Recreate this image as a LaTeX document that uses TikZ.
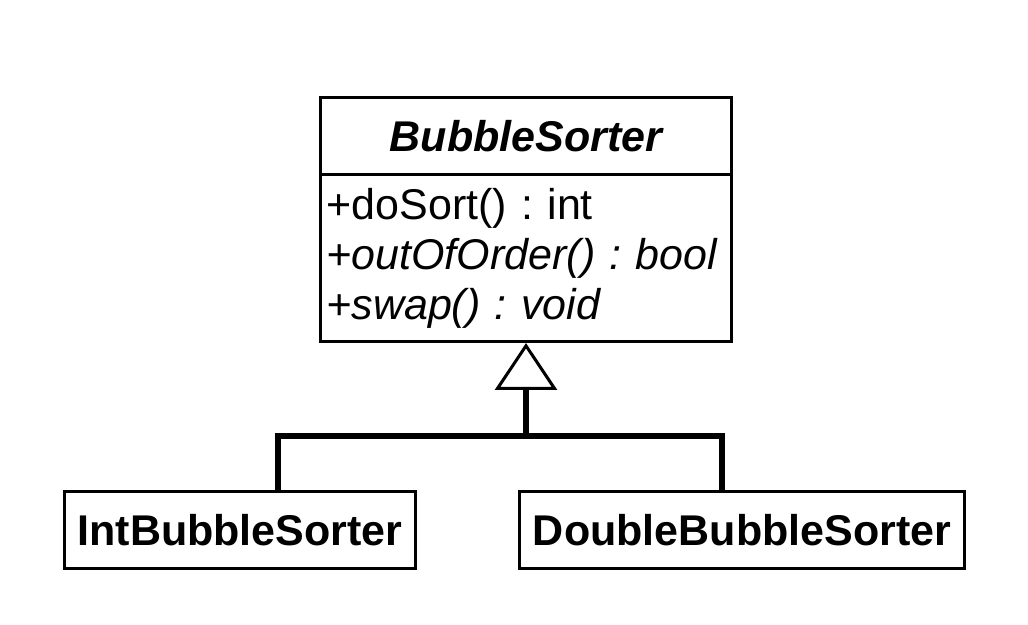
\documentclass[tikz,border=0pt]{standalone}
\usepackage{fontspec}
\setmainfont{Liberation Sans}
\usetikzlibrary{positioning,arrows.meta}
\begin{document}
\frenchspacing
\begin{tikzpicture}[
  x=0.5pt, y=-0.5pt,
  font=\fontsize{21.5}{25}\selectfont,
  classhead/.style={draw,line width=1.5pt,outer sep=0pt,minimum width=205.5pt,minimum height=38.75pt,inner sep=0pt,font=\fontsize{21.5}{25}\selectfont\bfseries\itshape},
  classbody/.style={draw,line width=1.5pt,outer sep=0pt,text width=199.5pt,minimum height=83.25pt,inner xsep=3pt,inner ysep=0pt,align=left},
  subclass/.style={draw,line width=1.5pt,outer sep=0pt,minimum height=38.5pt,inner sep=0pt,font=\fontsize{21.5}{25}\selectfont\bfseries},
  inherit/.style={line width=3pt},
  genarrow/.style={inherit,-{Triangle[open,length=23.5pt,width=31pt,line width=1.5pt]}},
]
\useasboundingbox (0,0) rectangle (1028,625);
% ---- abstract class ----
\node[classhead] (sorter) at (526,136.25) {BubbleSorter};
\node[classbody,anchor=north] (ops) at (sorter.south) {+doSort() : int\\\textit{+outOfOrder() : bool}\\\textit{+swap() : void}};
% ---- subclasses ----
\node[subclass,minimum width=175.5pt] (intbs) at (240,530) {IntBubbleSorter};
\node[subclass,minimum width=222.5pt] (dblbs) at (742,530) {DoubleBubbleSorter};
% ---- generalization ----
\coordinate (fork) at (526,436);
\draw[inherit] ([xshift=19pt]intbs.north) |- (fork) -| ([xshift=-10pt]dblbs.north);
\draw[genarrow] (fork) -- ([yshift=-0.75pt]ops.south);
\end{tikzpicture}
\end{document}
